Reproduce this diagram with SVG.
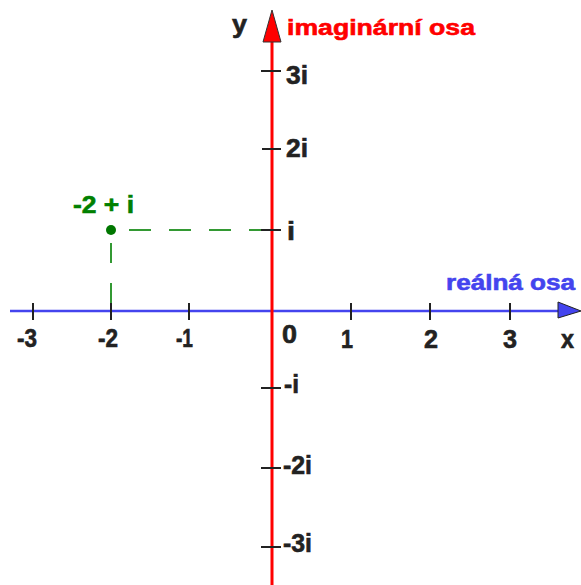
<svg xmlns="http://www.w3.org/2000/svg" width="581" height="585" viewBox="0 0 581 585">
<style>
.t{font-family:"Liberation Sans",Arial,sans-serif;font-weight:bold;stroke-width:0.6;}
.num{fill:#222;stroke:#222;font-size:25px;}
.tick{stroke:#222;stroke-width:2;}
.dash{stroke:#339933;stroke-width:2;fill:none;}
</style>
<rect width="581" height="585" fill="#fff"/>
<g id="connectors">
  <line class="dash" x1="129" y1="230" x2="262" y2="230" stroke-dasharray="22 18"/>
  <line class="dash" x1="111" y1="243" x2="111" y2="305" stroke-dasharray="20 20"/>
</g>
<g id="real-axis">
  <line x1="10" y1="311" x2="560" y2="311" stroke="#4444ee" stroke-width="2.5"/>
  <polygon points="558,302 581,311 558,318" fill="#4444ee" stroke="#222" stroke-width="1"/>
  <g class="tick">
    <line x1="33" y1="303" x2="33" y2="320"/>
    <line x1="111" y1="303" x2="111" y2="320"/>
    <line x1="189" y1="303" x2="189" y2="320"/>
    <line x1="351" y1="303" x2="351" y2="320"/>
    <line x1="430" y1="303" x2="430" y2="320"/>
    <line x1="510" y1="303" x2="510" y2="320"/>
  </g>
  <text class="t" x="446" y="290" font-size="22" fill="#4444ee" stroke="#4444ee" textLength="129" lengthAdjust="spacingAndGlyphs">reálná osa</text>
  <text class="t num" x="17" y="347" textLength="20" lengthAdjust="spacingAndGlyphs">-3</text>
  <text class="t num" x="98" y="347" textLength="20" lengthAdjust="spacingAndGlyphs">-2</text>
  <text class="t num" x="176" y="347" textLength="17" lengthAdjust="spacingAndGlyphs">-1</text>
  <text class="t num" x="282" y="343" textLength="15" lengthAdjust="spacingAndGlyphs">0</text>
  <text class="t num" x="341" y="348" textLength="12" lengthAdjust="spacingAndGlyphs">1</text>
  <text class="t num" x="424" y="348" textLength="14" lengthAdjust="spacingAndGlyphs">2</text>
  <text class="t num" x="503" y="348" textLength="14" lengthAdjust="spacingAndGlyphs">3</text>
  <text class="t num" x="561" y="348" font-size="22" textLength="13" lengthAdjust="spacingAndGlyphs">x</text>
</g>
<g id="imag-axis">
  <line x1="272" y1="40" x2="272" y2="585" stroke="#ff0000" stroke-width="3"/>
  <polygon points="272,10 281,42 263,42" fill="#ff0000" stroke="#333" stroke-width="1"/>
  <g class="tick">
    <line x1="261" y1="71" x2="281" y2="71"/>
    <line x1="262" y1="149" x2="281" y2="149"/>
    <line x1="261" y1="230" x2="281" y2="230"/>
    <line x1="261" y1="388" x2="281" y2="388"/>
    <line x1="261" y1="468" x2="281" y2="468"/>
    <line x1="261" y1="547" x2="281" y2="547"/>
  </g>
  <text class="t" x="287" y="35" font-size="22" fill="#ff0000" stroke="#ff0000" textLength="188" lengthAdjust="spacingAndGlyphs">imaginární osa</text>
  <text class="t num" x="232" y="33" font-size="24" textLength="15" lengthAdjust="spacingAndGlyphs">y</text>
  <text class="t num" x="286" y="84" font-size="28" textLength="22" lengthAdjust="spacingAndGlyphs">3i</text>
  <text class="t num" x="286" y="157" font-size="27" textLength="22" lengthAdjust="spacingAndGlyphs">2i</text>
  <text class="t num" x="287" y="240" font-size="29" textLength="8" lengthAdjust="spacingAndGlyphs">i</text>
  <text class="t num" x="284" y="393" font-size="27" textLength="15" lengthAdjust="spacingAndGlyphs">-i</text>
  <text class="t num" x="283" y="474" font-size="28" textLength="29" lengthAdjust="spacingAndGlyphs">-2i</text>
  <text class="t num" x="283" y="552" font-size="26" textLength="29" lengthAdjust="spacingAndGlyphs">-3i</text>
</g>
<g id="point">
  <circle cx="111" cy="230" r="5" fill="#007700"/>
  <text class="t" x="73" y="213" font-size="24" fill="#008000" stroke="#008000" textLength="61" lengthAdjust="spacingAndGlyphs">-2 + i</text>
</g>
</svg>
